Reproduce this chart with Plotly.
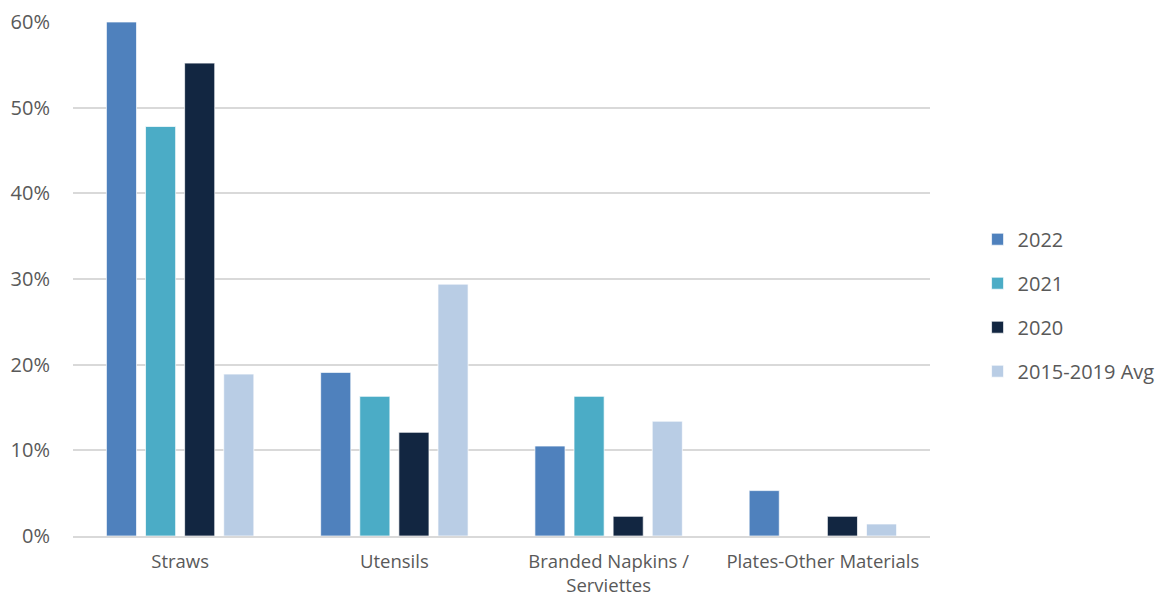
import plotly.graph_objects as go

categories = ["Straws", "Utensils", "Branded Napkins /<br>Serviettes", "Plates-Other Materials"]
series_names = ["2022", "2021", "2020", "2015-2019 Avg"]
v2022 = [60.0, 19.1, 10.5, 5.3]
v2021 = [47.8, 16.3, 16.3, 0.0]
v2020 = [55.2, 12.1, 2.3, 2.3]
vavg = [18.9, 29.4, 13.4, 1.4]
colors = ["#4F81BD", "#4BACC6", "#122641", "#B9CDE5"]
tick_vals = [0, 10, 20, 30, 40, 50, 60]
tick_text = ["0%", "10%", "20%", "30%", "40%", "50%", "60%"]

fig = go.Figure()
for name, vals, col in zip(series_names, [v2022, v2021, v2020, vavg], colors):
    fig.add_trace(go.Bar(
        x=categories, y=vals, name=name, legendgroup=name,
        marker=dict(color=col, line=dict(color="white", width=0.7)),
    ))

font_family = "Open Sans, sans-serif"
fig.update_layout(
    width=1168, height=591,
    margin=dict(l=65, r=246, t=14, b=63, autoexpand=False),
    paper_bgcolor="white", plot_bgcolor="white",
    barmode="group", bargap=0.27, bargroupgap=0.23,
    font=dict(family=font_family, color="#595959", size=18.5),
    showlegend=True,
    legend=dict(x=1.0555, xanchor="left", y=0.449, yanchor="middle",
                font=dict(size=20, color="#595959"), tracegroupgap=15,
                itemwidth=30, traceorder="grouped"),
    xaxis=dict(showgrid=False, showline=True, linecolor="#D9D9D9", linewidth=1.5,
               ticks="", tickfont=dict(size=18.5, color="#595959"),
               ticklabelstandoff=8, automargin=False),
    yaxis=dict(range=[0, 60], tickvals=tick_vals, ticktext=tick_text,
               showgrid=True, gridcolor="#D9D9D9", gridwidth=1.5,
               zeroline=False, showline=False, ticks="", automargin=False,
               tickfont=dict(size=20, color="#595959"), ticklabelstandoff=22),
)

fig.write_html("out.html")
